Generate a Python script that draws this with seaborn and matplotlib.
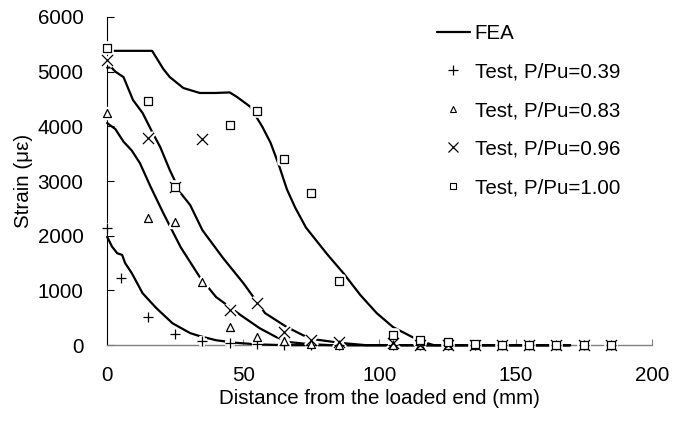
import matplotlib
matplotlib.use("Agg")
import matplotlib.pyplot as plt
from matplotlib.lines import Line2D
import seaborn as sns

# FEA curves (distance mm, strain microstrain)
fea_039_x = [0, 1.8, 3.7, 5.5, 6.6, 9, 13, 18, 24, 30.5, 34, 40, 47, 55, 65, 170]
fea_039_y = [1980, 1800, 1680, 1650, 1500, 1320, 950, 680, 400, 220, 165, 90, 45, 15, 0, 0]

fea_083_x = [0, 3, 6, 9, 12, 16, 20.6, 27, 34, 40, 49, 56, 62, 67, 74, 82, 170]
fea_083_y = [4060, 3950, 3720, 3560, 3330, 2890, 2415, 1790, 1245, 880, 550, 310, 150, 55, 20, 0, 0]

fea_096_x = [0, 1.5, 3, 6, 9.5, 13, 16.5, 19.5, 23, 27, 30.5, 35, 42.6, 50, 58, 66, 72, 75.6, 86, 95, 170]
fea_096_y = [5070, 5080, 5000, 4900, 4480, 4245, 3900, 3620, 3200, 2780, 2560, 2100, 1590, 1135,
             585, 330, 180, 110, 40, 0, 0]

fea_100_x = [0, 16.5, 18.5, 20.6, 23, 28, 34, 40, 45, 47.6, 52.5, 57, 60, 63, 66, 69, 73, 77, 81,
             86.7, 93, 99, 105, 112, 116, 120, 170]
fea_100_y = [5380, 5380, 5220, 5050, 4900, 4700, 4610, 4610, 4620, 4540, 4360, 3990, 3700, 3300,
             2850, 2520, 2150, 1900, 1650, 1320, 915, 585, 330, 150, 60, 0, 0]

# Test data
t039_x = [0, 5, 15, 25, 35, 45, 55, 65, 75, 85, 105, 115, 125, 135, 145, 155, 165, 175, 185]
t039_y = [2150, 1230, 520, 200, 70, 40, 20, 0, 0, 0, 0, 0, 0, 0, 0, 0, 0, 0, 0]

t083_x = [0, 15, 25, 35, 45, 55, 65, 75, 85, 105, 115, 125, 135, 145, 155, 165, 175, 185]
t083_y = [4250, 2320, 2250, 1150, 330, 150, 80, 20, 10, 0, 0, 0, 0, 0, 0, 0, 0, 0]

t096_x = [0, 15, 25, 35, 45, 55, 65, 75, 85, 105, 115, 125, 135, 145, 155, 165, 175, 185]
t096_y = [5220, 3790, 2900, 3760, 640, 770, 240, 90, 55, 35, 0, 0, 0, 0, 0, 0, 0, 0]

t100_x = [0, 15, 25, 45, 55, 65, 75, 85, 105, 115, 125, 135, 145, 155, 165, 175, 185]
t100_y = [5440, 4470, 2890, 4020, 4280, 3400, 2780, 1180, 180, 90, 55, 20, 10, 5, 0, 0, 0]

labels = ["FEA", "Test, P/Pu=0.39", "Test, P/Pu=0.83", "Test, P/Pu=0.96", "Test, P/Pu=1.00"]

sns.set_style("white")
plt.rcParams['font.family'] = ['Liberation Sans', 'DejaVu Sans']
plt.rcParams['text.color'] = 'black'
plt.rcParams['axes.labelcolor'] = 'black'

fs = 14.8

fig = plt.figure(figsize=(6.74, 4.23), dpi=100)
ax = fig.add_axes([0.159, 0.184, 0.808, 0.776])

# FEA lines (drawn over the grey x axis line)
for fx, fy in [(fea_039_x, fea_039_y), (fea_083_x, fea_083_y),
               (fea_096_x, fea_096_y), (fea_100_x, fea_100_y)]:
    sns.lineplot(x=fx, y=fy, ax=ax, color='black', linewidth=1.6, sort=False,
                 estimator=None, zorder=2.6, clip_on=False)

# test markers: (x, y, marker, size, filled)
tests = [
    (t039_x, t039_y, '+', 42, False),
    (t083_x, t083_y, '^', 33, True),
    (t096_x, t096_y, 'x', 64, False),
    (t100_x, t100_y, 's', 27, True),
]

# white halo under markers (gaps in the lines)
for tx, ty, m, s, filled in tests:
    sns.scatterplot(x=tx, y=ty, ax=ax, marker=m, s=s, color='white', edgecolor='white',
                    linewidth=4, zorder=3, clip_on=False)

for tx, ty, m, s, filled in tests:
    if filled:
        sns.scatterplot(x=tx, y=ty, ax=ax, marker=m, s=s, color='white', edgecolor='black',
                        linewidth=0.9, zorder=4, clip_on=False)
    else:
        sns.scatterplot(x=tx, y=ty, ax=ax, marker=m, s=s, color='black',
                        linewidth=0.9, zorder=4, clip_on=False)

ax.set_xlim(0, 200)
ax.set_ylim(0, 6000)
ax.set_xticks([0, 50, 100, 150, 200])
ax.set_yticks(range(0, 6001, 1000))

for side in ['top', 'right']:
    ax.spines[side].set_visible(False)
ax.spines['left'].set_color('black')
ax.spines['left'].set_linewidth(0.8)
ax.spines['bottom'].set_color('#808080')
ax.spines['bottom'].set_linewidth(1.0)

ax.tick_params(axis='y', left=True, direction='in', length=5, width=0.8, color='black', pad=17,
               labelsize=fs, labelcolor='black')
ax.tick_params(axis='x', bottom=True, direction='in', length=4, width=0.8, color='#808080',
               pad=15, labelsize=fs, labelcolor='black')

ax.set_xlabel("Distance from the loaded end (mm)", fontsize=fs, labelpad=3)
ax.set_ylabel("Strain (με)", fontsize=fs, labelpad=3)

handles = [
    Line2D([], [], color='black', linewidth=1.6),
    Line2D([], [], color='black', marker='+', linestyle='none', markersize=7, markeredgewidth=0.9),
    Line2D([], [], color='black', marker='^', linestyle='none', markersize=4.5,
           markerfacecolor='white', markeredgewidth=0.8),
    Line2D([], [], color='black', marker='x', linestyle='none', markersize=7.5, markeredgewidth=0.9),
    Line2D([], [], color='black', marker='s', linestyle='none', markersize=4.5,
           markerfacecolor='white', markeredgewidth=0.8),
]
fig.legend(handles, labels, loc='upper left', bbox_to_anchor=(0.648, 0.943), frameon=False,
           fontsize=fs, handlelength=1.6, handletextpad=0.25, labelspacing=0.95,
           borderpad=0, borderaxespad=0)

fig.savefig("out.png", dpi=100)
